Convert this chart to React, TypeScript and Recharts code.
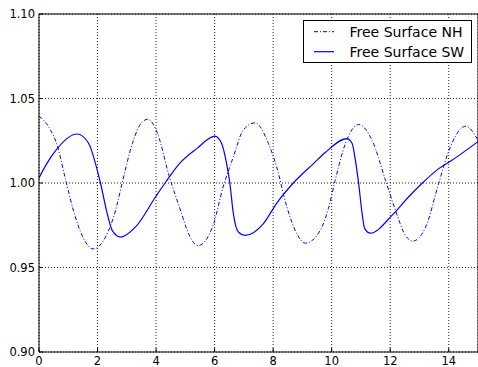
import React from 'react';
import { LineChart, Line, XAxis, YAxis, CartesianGrid } from 'recharts';

// time values, with the surface heights at those times
const nhTime = [0, 0.33, 0.62, 0.9, 1.24, 1.59, 1.85, 2.27, 2.62, 2.85, 3.19, 3.53, 3.72, 4.05, 4.44, 4.87, 5.04, 5.44, 5.95, 6.29, 6.64, 6.98, 7.38, 7.84, 8.12, 8.47, 8.81, 9.1, 9.61, 9.89, 10.12, 10.47, 10.92, 11.38, 11.84, 12.18, 12.52, 12.77, 13.21, 13.66, 14.01, 14.58, 15];
const nhLevel = [1.0396, 1.0332, 1.0224, 1.0026, 0.98, 0.965, 0.961, 0.968, 0.984, 1.0006, 1.0234, 1.0362, 1.0377, 1.0293, 1.0046, 0.982, 0.973, 0.963, 0.975, 0.9976, 1.0154, 1.0313, 1.0356, 1.0234, 1.0095, 0.9858, 0.97, 0.9644, 0.972, 0.985, 1.0016, 1.0234, 1.0346, 1.0253, 1.0016, 0.9838, 0.969, 0.9656, 0.9739, 1.0, 1.0194, 1.0336, 1.0253];

const swTime = [0, 0.25, 0.56, 1.3, 1.7, 1.93, 2.1, 2.33, 2.5, 2.79, 3.3, 3.99, 4.33, 4.8, 5.4, 6.01, 6.24, 6.41, 6.52, 6.64, 6.81, 7.04, 7.67, 8.12, 8.69, 9.38, 9.78, 10.52, 10.7, 10.81, 10.92, 11.04, 11.13, 11.32, 12.07, 12.64, 13.1, 13.66, 14.07, 15];
const swLevel = [1.003, 1.011, 1.019, 1.029, 1.0234, 1.0115, 1.0, 0.982, 0.972, 0.968, 0.974, 0.992, 1.0006, 1.0115, 1.0205, 1.0277, 1.0234, 1.0115, 1.0, 0.982, 0.971, 0.969, 0.976, 0.988, 1.0, 1.0115, 1.018, 1.0263, 1.0234, 1.0135, 1.0, 0.982, 0.973, 0.9703, 0.981, 0.992, 1.0, 1.0085, 1.013, 1.0245];

const xTicks = [0, 2, 4, 6, 8, 10, 12, 14];
const yTicks = [0.9, 0.95, 1.0, 1.05, 1.1];

const nhData = nhTime.map((t, i) => ({ t, v: nhLevel[i] }));
const swData = swTime.map((t, i) => ({ t, v: swLevel[i] }));

const FONT = '"DejaVu Sans", sans-serif';

const LeftTick = ({ x, y, payload }: any) => (
  <g>
    <line x1={x + 4} x2={x + 8} y1={y} y2={y} stroke="#000" />
    <text x={x} y={y} dy={4} textAnchor="end" fontSize={11.5} fontFamily={FONT} fill="#000">
      {Number(payload.value).toFixed(2)}
    </text>
  </g>
);

const BottomTick = ({ x, y, payload }: any) => (
  <g>
    <line x1={x} x2={x} y1={352} y2={348} stroke="#000" />
    <text x={x} y={y} dy={9} textAnchor="middle" fontSize={11.5} fontFamily={FONT} fill="#000">
      {payload.value}
    </text>
  </g>
);

const TopTick = ({ x, y }: any) => <line x1={x} x2={x} y1={y} y2={y + 4} stroke="#000" />;

const RightTick = ({ x, y }: any) => <line x1={x - 4} x2={x} y1={y} y2={y} stroke="#000" />;

const LegendBox = () => (
  <div
    style={{
      position: 'absolute',
      left: 303,
      top: 20,
      width: 169,
      height: 43,
      border: '1px solid #000',
      background: '#fff',
      boxSizing: 'border-box',
    }}
  >
    <svg width={167} height={41} style={{ display: 'block' }}>
      <line x1={10} x2={30} y1={10.7} y2={10.7} stroke="#0000ff" strokeDasharray="4 2 1 2" />
      <text x={45.5} y={16} fill="#000" fontFamily={FONT} fontSize={14}>Free Surface NH</text>
      <line x1={10} x2={30} y1={30.7} y2={30.7} stroke="#0000ff" strokeWidth={1.2} />
      <text x={45.5} y={36} fill="#000" fontFamily={FONT} fontSize={14}>Free Surface SW</text>
    </svg>
  </div>
);

export default function App() {
  return (
    <div style={{ position: 'absolute', left: 0, top: 0, width: 478, height: 367, overflow: 'hidden', background: '#fff' }}>
      <LineChart width={479} height={367} margin={{ top: 13, right: 0, left: 0, bottom: 0 }}>
        <CartesianGrid stroke="#222" strokeDasharray="1 2" />
        <XAxis
          dataKey="t"
          type="number"
          domain={[0, 15]}
          ticks={xTicks}
          height={15}
          tickSize={0}
          tickMargin={4}
          tickLine={false}
          axisLine={{ stroke: '#000' }}
          tick={<BottomTick />}
          allowDataOverflow
        />
        <XAxis
          xAxisId="t"
          orientation="top"
          dataKey="t"
          type="number"
          domain={[0, 15]}
          ticks={xTicks}
          height={1}
          tickSize={0}
          tickMargin={0}
          tickLine={false}
          axisLine={{ stroke: '#000' }}
          tick={<TopTick />}
        />
        <YAxis
          type="number"
          domain={[0.9, 1.1]}
          ticks={yTicks}
          width={39}
          tickSize={0}
          tickMargin={4}
          tickLine={false}
          axisLine={{ stroke: '#000' }}
          tick={<LeftTick />}
          allowDataOverflow
        />
        <YAxis
          yAxisId="r"
          orientation="right"
          type="number"
          domain={[0.9, 1.1]}
          ticks={yTicks}
          width={1}
          tickSize={0}
          tickMargin={0}
          tickLine={false}
          axisLine={{ stroke: '#000' }}
          tick={<RightTick />}
        />
        <Line
          data={nhData}
          dataKey="v"
          name="Free Surface NH"
          type="monotone"
          stroke="#0000ff"
          strokeWidth={1}
          strokeDasharray="4 2 1 2"
          dot={false}
          isAnimationActive={false}
        />
        <Line
          data={swData}
          dataKey="v"
          name="Free Surface SW"
          type="monotone"
          stroke="#0000ff"
          strokeWidth={1.2}
          dot={false}
          isAnimationActive={false}
        />
      </LineChart>
      <LegendBox />
    </div>
  );
}
